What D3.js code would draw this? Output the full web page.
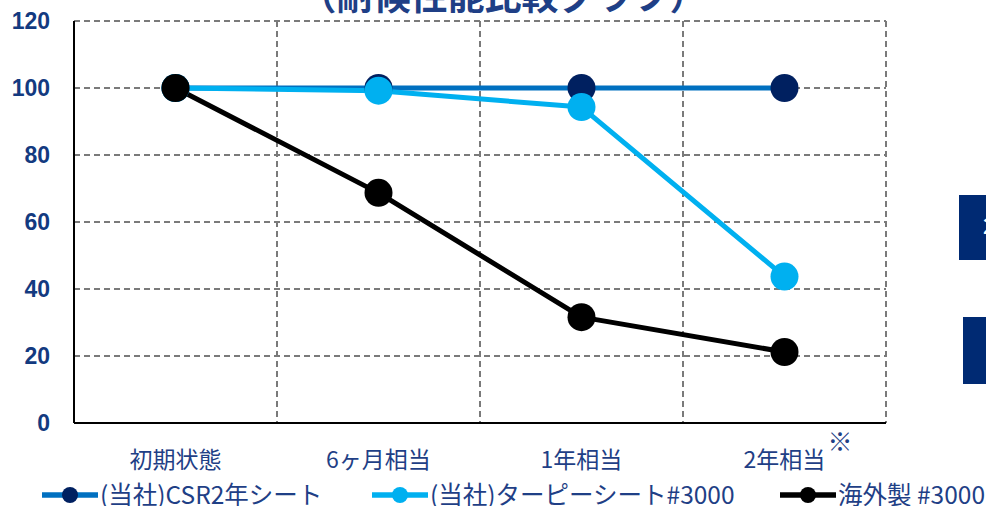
<!DOCTYPE html>
<html>
<head>
<meta charset="utf-8">
<script src="https://cdn.jsdelivr.net/npm/d3@7"></script>
<style>
  body { margin: 0; background: #fff; }
  svg { display: block; font-family: "Noto Sans CJK JP", "Noto Sans", sans-serif; }
</style>
</head>
<body>
<div class="chart"></div>
<script>
var categories = ["初期状態", "6ヶ月相当", "1年相当", "2年相当"];
var csrValues = [100, 100, 100, 100];
var tarpValues = [100, 99.2, 94.3, 43.7];
var foreignValues = [100, 68.7, 31.6, 21.2];
var yTicks = [0, 20, 40, 60, 80, 100, 120];
var seriesNames = ["(当社)CSR2年シート", "(当社)ターピーシート#3000", "海外製 #3000"];

var width = 986, height = 506;
var plotLeft = 74, plotRight = 886, plotTop = 21, plotBottom = 423;
var textColor = "#1f3f86";

var series = [
  {name: seriesNames[0], values: csrValues, line: "#0070c0", dot: "#002060"},
  {name: seriesNames[1], values: tarpValues, line: "#00b0f0", dot: "#00b0f0"},
  {name: seriesNames[2], values: foreignValues, line: "#000000", dot: "#000000"}
];

var x = d3.scaleBand()
    .domain(categories)
    .range([plotLeft, plotRight]);

var y = d3.scaleLinear()
    .domain([0, 120])
    .range([plotBottom, plotTop]);

var svg = d3.select(".chart").append("svg")
    .attr("width", width)
    .attr("height", height);

// title, mostly cut off at the top
svg.append("text")
    .attr("x", 503)
    .attr("y", 10)
    .attr("text-anchor", "middle")
    .attr("font-size", 37)
    .attr("font-weight", "bold")
    .attr("fill", "#1f3f86")
    .text("（耐候性能比較グラフ）");

// horizontal grid
svg.append("g")
    .selectAll("line")
    .data(yTicks.filter(function(d){ return d > 0; }))
    .enter()
    .append("line")
    .attr("x1", plotLeft).attr("x2", plotRight)
    .attr("y1", function(d){ return y(d); })
    .attr("y2", function(d){ return y(d); })
    .attr("stroke", "#7a7a7a")
    .attr("stroke-width", 2)
    .attr("stroke-dasharray", "6,4");

// vertical grid
var vlines = categories.slice(1).map(function(c){ return x(c); }).concat([plotRight]);
svg.append("g")
    .selectAll("line")
    .data(vlines)
    .enter()
    .append("line")
    .attr("x1", function(d){ return d; })
    .attr("x2", function(d){ return d; })
    .attr("y1", plotTop).attr("y2", plotBottom)
    .attr("stroke", "#7a7a7a")
    .attr("stroke-width", 2)
    .attr("stroke-dasharray", "6,4");

// axes lines
svg.append("line")
    .attr("x1", plotLeft).attr("x2", plotLeft)
    .attr("y1", plotTop).attr("y2", plotBottom)
    .attr("stroke", "#000").attr("stroke-width", 2);
svg.append("line")
    .attr("x1", plotLeft).attr("x2", plotRight)
    .attr("y1", plotBottom).attr("y2", plotBottom)
    .attr("stroke", "#000").attr("stroke-width", 2);

// y labels
svg.append("g")
    .selectAll("text")
    .data(yTicks)
    .enter()
    .append("text")
    .attr("x", 50)
    .attr("y", function(d){ return y(d); })
    .attr("dy", "0.35em")
    .attr("text-anchor", "end")
    .attr("font-family", "'Liberation Sans', sans-serif")
    .attr("font-weight", "bold")
    .attr("font-size", 23)
    .attr("fill", "#133a80")
    .text(function(d){ return d; });

// x labels
var cx = function(c){ return x(c) + x.bandwidth() / 2; };
svg.append("g")
    .selectAll("text")
    .data(categories)
    .enter()
    .append("text")
    .attr("x", function(d){ return cx(d); })
    .attr("y", 468)
    .attr("text-anchor", "middle")
    .attr("font-size", 23)
    .attr("fill", textColor)
    .text(function(d){ return d; });

svg.append("text")
    .attr("x", 840)
    .attr("y", 451)
    .attr("text-anchor", "middle")
    .attr("font-size", 25)
    .attr("font-weight", "bold")
    .attr("fill", textColor)
    .text("※");

// lines and dots
var line = d3.line()
    .x(function(d, i){ return cx(categories[i]); })
    .y(function(d){ return y(d); });

series.forEach(function(s){
    svg.append("path")
        .attr("d", line(s.values))
        .attr("fill", "none")
        .attr("stroke", s.line)
        .attr("stroke-width", 5)
        .attr("stroke-linejoin", "round");
});

series.forEach(function(s){
    svg.append("g")
        .selectAll("circle")
        .data(s.values)
        .enter()
        .append("circle")
        .attr("cx", function(d, i){ return cx(categories[i]); })
        .attr("cy", function(d){ return y(d); })
        .attr("r", 14)
        .attr("fill", s.dot);
});

// legend
var legendX = [42, 372, 780];
series.forEach(function(s, i){
    var g = svg.append("g").attr("transform", "translate(" + legendX[i] + ",495)");
    g.append("line")
        .attr("x1", 0).attr("x2", 56)
        .attr("stroke", s.line)
        .attr("stroke-width", 5.5);
    g.append("circle")
        .attr("cx", 28).attr("r", 8)
        .attr("fill", s.dot);
    g.append("text")
        .attr("x", 58)
        .attr("dy", "0.35em")
        .attr("font-size", 24.5)
        .attr("fill", textColor)
        .text(s.name);
});

// boxes at right edge, cut off
svg.append("rect")
    .attr("x", 959).attr("y", 195)
    .attr("width", 40).attr("height", 65)
    .attr("fill", "#002a73");
svg.append("text")
    .attr("x", 983).attr("y", 234)
    .attr("font-size", 22)
    .attr("font-weight", "bold")
    .attr("fill", "#fff")
    .text("2");
svg.append("rect")
    .attr("x", 963).attr("y", 317)
    .attr("width", 40).attr("height", 67)
    .attr("fill", "#002a73");
</script>
</body>
</html>
